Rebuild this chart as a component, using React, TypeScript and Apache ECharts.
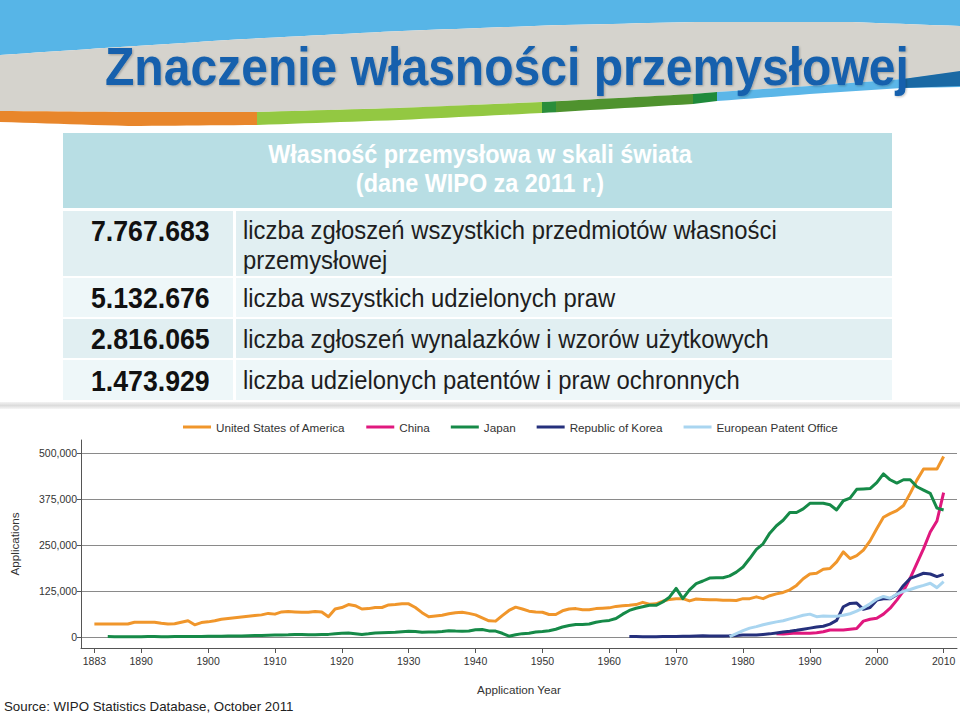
import React, { useEffect, useRef } from 'react';
import * as echarts from 'echarts';

// ---------- DATA ----------
const seriesNames = ['United States of America', 'China', 'Japan', 'Republic of Korea', 'European Patent Office'];
const seriesColors = ['#f0962b', '#e0187e', '#168a48', '#25307c', '#a9d5f0'];

const usaStart = 1883;
const usaValues = [
  35000, 35000, 35000, 35000, 35500, 35000, 40000,
  40000, 40000, 40000, 37000, 35000, 36000, 40000, 44000, 33000, 39000,
  41000, 44000, 48000, 50000, 52000, 54000, 56000, 58000, 60000, 64000,
  62000, 68000, 69000, 68000, 67000, 67000, 69000, 68000, 55000, 76000,
  80000, 88000, 85000, 76000, 77000, 80000, 80000, 87000, 88000, 90000,
  90000, 80000, 66000, 55000, 57000, 59000, 63000, 66000, 67000, 64000,
  60000, 52000, 44000, 43000, 58000, 72000, 81000, 76000, 70000, 68000,
  67000, 61000, 61000, 71000, 76000, 77000, 74000, 74000, 77000, 78000,
  79000, 83000, 85000, 86000, 88000, 94000, 89000, 90000, 97000, 102000,
  104000, 104000, 98000, 103000, 102000, 101000, 101000, 100000, 100000, 99000,
  104000, 104000, 109000, 104000, 112000, 117000, 121000, 128000, 140000, 158000,
  171000, 173000, 184000, 186000, 204000, 231000, 213000, 221000, 236000, 261000,
  294000, 325000, 335000, 343000, 357000, 390000, 426000, 456000, 456000, 456000, 490000,
];

const chinaStart = 1985;
const chinaValues = [
  8500, 8000, 9500, 11000, 10000,
  10000, 11500, 14000, 19000, 19000, 19000, 21000, 23000, 43000, 48000,
  51000, 62000, 78000, 100000, 125000, 160000, 200000, 240000, 285000, 315000, 392000,
];

const japanStart = 1885;
const japanValues = [
  1000, 500, 400, 400, 600,
  800, 900, 900, 800, 800, 900, 1000, 1200, 1100, 1500,
  1800, 2000, 2200, 2400, 2300, 2500, 3000, 3800, 4200, 4600,
  5000, 5500, 6000, 7000, 6500, 6000, 6200, 6500, 7000, 9000,
  10000, 11000, 9000, 6500, 8500, 11000, 11500, 12000, 12500, 14000,
  15500, 15000, 12500, 13500, 13500, 15000, 17000, 16000, 15500, 16000,
  19500, 20000, 16500, 16000, 10000, 2000, 6000, 9000, 10000, 13500,
  15000, 17000, 21000, 27000, 31000, 34000, 34000, 35000, 40000, 43000,
  45000, 50000, 62000, 72000, 78000, 82000, 86000, 86000, 95000, 108000,
  132000, 104000, 128000, 145000, 152000, 160000, 161000, 161000, 166000, 176000,
  190000, 213000, 238000, 253000, 282000, 302000, 317000, 338000, 338000, 348000,
  363000, 363000, 363000, 359000, 345000, 370000, 377000, 401000, 402000, 403000,
  419000, 443000, 427000, 418000, 427000, 427000, 408000, 399000, 390000, 350000, 345000,
];

const koreaStart = 1963;
const koreaValues = [
  1200, 1000, 800, 500, 800, 1000, 1200,
  1500, 1800, 1800, 2500, 3000, 2900, 2400, 2500, 3000, 4000,
  5000, 5300, 5300, 6700, 8400, 11000, 13600, 15500, 18000, 21000,
  24000, 27000, 29000, 35000, 45000, 82000, 91000, 92000, 75000, 80000,
  100000, 104000, 104000, 115000, 140000, 159000, 166000, 173000, 171000, 164000, 170000,
];

const epoStart = 1978;
const epoValues = [
  1000, 9000,
  17000, 24000, 28000, 33000, 37000, 41000, 44000, 49000, 54000, 59000,
  62000, 55000, 57000, 56500, 56500, 59000, 63000, 70000, 79000, 90000,
  103000, 110000, 105000, 116000, 124000, 129000, 135000, 140000, 146000, 134000, 150000,
];

const xTickYears = [1883, 1890, 1900, 1910, 1920, 1930, 1940, 1950, 1960, 1970, 1980, 1990, 2000, 2010];
const yTickValues = [0, 125000, 250000, 375000, 500000];

const slideTitle = 'Znaczenie własności przemysłowej';
const tableHeader = ['Własność przemysłowa w skali świata', '(dane WIPO za 2011 r.)'];
const tableNumbers = ['7.767.683', '5.132.676', '2.816.065', '1.473.929'];
const tableTexts = [
  ['liczba zgłoszeń wszystkich przedmiotów własności', 'przemysłowej'],
  ['liczba wszystkich udzielonych praw'],
  ['liczba zgłoszeń wynalazków i wzorów użytkowych'],
  ['liczba udzielonych patentów i praw ochronnych'],
];
const yAxisName = 'Applications';
const xAxisName = 'Application Year';
const sourceText = 'Source: WIPO Statistics Database, October 2011';

// ---------- helpers ----------
const FONT = '"Liberation Sans", Arial, "DejaVu Sans", sans-serif';

const toPairs = (start: number, vals: number[]) => vals.map((v, i) => [start + i, v]);

type Pt = [number, number];
const interp = (curve: Pt[], x: number) => {
  for (let i = 0; i < curve.length - 1; i++) {
    const [x0, y0] = curve[i];
    const [x1, y1] = curve[i + 1];
    if (x >= x0 && x <= x1) {
      const t = (x - x0) / (x1 - x0 || 1);
      return y0 + (y1 - y0) * t;
    }
  }
  return curve[curve.length - 1][1];
};
const sample = (curve: Pt[], xa: number, xb: number): Pt[] => {
  const pts: Pt[] = [];
  const n = Math.max(2, Math.ceil((xb - xa) / 12));
  for (let i = 0; i <= n; i++) {
    const x = xa + ((xb - xa) * i) / n;
    pts.push([x, interp(curve, x)]);
  }
  return pts;
};

const grayTop: Pt[] = [[0, 55], [120, 47], [245, 39], [400, 31], [560, 25], [700, 22], [850, 22], [960, 26]];
const stripeTop: Pt[] = [[0, 111], [130, 112], [257, 112], [400, 108], [542, 102], [693, 94], [717, 92], [810, 86], [903, 79], [960, 72]];
const stripeBot: Pt[] = [[0, 122], [130, 126], [257, 125], [400, 120], [542, 113], [693, 104], [717, 101], [810, 94], [903, 88], [960, 87]];

const band = (xa: number, xb: number, top: Pt[], bot: Pt[]) => [
  ...sample(top, xa, xb),
  ...sample(bot, xa, xb).reverse(),
];

const txt = (x: number, y: number, text: string, size: number, fill: string, opts: any = {}) => ({
  type: 'text', x, y, scaleX: opts.scaleX ?? 1, scaleY: 1, originX: 0, originY: 0,
  silent: true,
  style: {
    text, fill, fontSize: size, fontWeight: opts.bold ? 'bold' : 'normal', fontFamily: FONT,
    align: opts.align ?? 'left', verticalAlign: 'middle',
    textAlign: opts.align ?? 'left', textVerticalAlign: 'middle',
    ...(opts.extra || {}),
  },
});

function buildGraphics() {
  const g: any[] = [];
  // sky
  g.push({ type: 'polygon', shape: { points: [[0, 0], [960, 0], ...sample(grayTop, 0, 960).reverse()] }, style: { fill: '#57b5e7' }, silent: true });
  // gray wave
  g.push({ type: 'polygon', shape: { points: band(0, 960, grayTop, stripeTop) }, style: { fill: '#d5d3cd' }, silent: true });
  // stripes
  const stripes: [number, number, string][] = [
    [0, 257, '#e8862b'],
    [257, 542, '#93c842'],
    [542, 556, '#2a8d3a'],
    [556, 693, '#4f922e'],
    [693, 717, '#1f8a3b'],
    [717, 960, '#5bb6e8'],
  ];
  stripes.forEach(([a, b, c]) => {
    g.push({ type: 'polygon', shape: { points: band(a, b, stripeTop, stripeBot) }, style: { fill: c }, silent: true });
  });
  // dark blue band at right
  g.push({ type: 'polygon', shape: { points: [[903, 79], [960, 71], [960, 86], [903, 88]] }, style: { fill: '#1a69a4' }, silent: true });

  // title
  g.push(txt(105, 67, slideTitle, 54, '#1561ad', {
    bold: true, scaleX: 0.89,
    extra: { textShadowColor: 'rgba(0,0,0,0.25)', textShadowBlur: 2, textShadowOffsetX: 1, textShadowOffsetY: 1 },
  }));

  // table
  const tLeft = 63, tRight = 892, colDiv = 233;
  g.push({ type: 'rect', shape: { x: tLeft, y: 133, width: tRight - tLeft, height: 75 }, style: { fill: '#b8dee4' }, silent: true });
  g.push(txt(480, 154, tableHeader[0], 26, '#ffffff', { bold: true, align: 'center', scaleX: 0.9 }));
  g.push(txt(480, 183, tableHeader[1], 26, '#ffffff', { bold: true, align: 'center', scaleX: 0.9 }));

  const rows: [number, number][] = [[211, 276], [278, 317], [319, 358], [360, 400]];
  const rowFills = ['#e1eff2', '#eef7f9', '#e1eff2', '#eef7f9'];
  rows.forEach(([y0, y1], i) => {
    g.push({ type: 'rect', shape: { x: tLeft, y: y0, width: colDiv - tLeft, height: y1 - y0 }, style: { fill: rowFills[i] }, silent: true });
    g.push({ type: 'rect', shape: { x: colDiv + 3, y: y0, width: tRight - colDiv - 3, height: y1 - y0 }, style: { fill: rowFills[i] }, silent: true });
    const lines = tableTexts[i];
    const firstY = lines.length > 1 ? y0 + 19 : (y0 + y1) / 2;
    g.push(txt(91, firstY, tableNumbers[i], 30, '#111111', { bold: true, scaleX: 0.89 }));
    lines.forEach((ln, j) => {
      g.push(txt(243, firstY + j * 30, ln, 26.5, '#1e1e1e', { scaleX: 0.9 }));
    });
  });

  // shadow under table
  g.push({
    type: 'rect', shape: { x: 0, y: 402, width: 960, height: 7 },
    style: { fill: new echarts.graphic.LinearGradient(0, 0, 0, 1, [{ offset: 0, color: '#f3f3f3' }, { offset: 0.5, color: '#dcdcdc' }, { offset: 1, color: '#f6f6f6' }]) },
    silent: true,
  });

  // source
  g.push(txt(4, 706, sourceText, 13.3, '#222222'));
  return g;
}

export default function App() {
  const ref = useRef<HTMLDivElement>(null);
  useEffect(() => {
    if (!ref.current) return;
    const chart = echarts.init(ref.current, undefined, { renderer: 'svg', width: 960, height: 720 });
    const allData = [
      toPairs(usaStart, usaValues),
      toPairs(chinaStart, chinaValues),
      toPairs(japanStart, japanValues),
      toPairs(koreaStart, koreaValues),
      toPairs(epoStart, epoValues),
    ];
    const option: any = {
      animation: false,
      backgroundColor: '#ffffff',
      textStyle: { fontFamily: FONT },
      graphic: { elements: buildGraphics() },
      legend: {
        left: 178, top: 416,
        icon: 'rect', itemWidth: 28, itemHeight: 3, itemGap: 21,
        textStyle: { fontSize: 11.7, color: '#333333', fontFamily: FONT },
        data: seriesNames,
        selectedMode: false,
      },
      grid: { left: 79, right: 3, top: 440, bottom: 72, containLabel: false },
      xAxis: {
        type: 'value', min: 1881, max: 2012,
        name: xAxisName, nameLocation: 'middle', nameGap: 35,
        nameTextStyle: { fontSize: 11.7, color: '#333333', fontFamily: FONT },
        axisLine: { show: true, onZero: false, lineStyle: { color: '#555555', width: 1 } },
        axisTick: { show: true, length: 5, customValues: xTickYears, lineStyle: { color: '#555555' } },
        axisLabel: { customValues: xTickYears, formatter: (v: number) => String(v), fontSize: 10.5, color: '#333333', margin: 7, fontFamily: FONT },
        splitLine: { show: false },
      },
      yAxis: {
        type: 'value', min: -30000, max: 535000,
        name: yAxisName, nameLocation: 'middle', nameGap: 61,
        nameTextStyle: { fontSize: 11.7, color: '#333333', fontFamily: FONT },
        axisLine: { show: true, onZero: false, lineStyle: { color: '#555555', width: 1 } },
        axisTick: { show: true, length: 4, customValues: yTickValues, lineStyle: { color: '#555555' } },
        axisLabel: {
          customValues: yTickValues,
          formatter: (v: number) => v.toLocaleString('en-US'),
          fontSize: 10.5, color: '#333333', margin: 4, fontFamily: FONT,
        },
        splitLine: { show: true, lineStyle: { color: '#8a8a8a', width: 1 } },
      },
      series: seriesNames.map((name, i) => ({
        name, type: 'line', data: allData[i], showSymbol: false, symbol: 'none',
        lineStyle: { width: 3, color: seriesColors[i], join: 'round' },
        itemStyle: { color: seriesColors[i] },
        z: 3 + i,
      })),
    };
    chart.setOption(option);
    return () => chart.dispose();
  }, []);
  return (
    <div
      ref={ref}
      style={{ position: 'absolute', left: 0, top: 0, width: 960, height: 720, background: '#ffffff' }}
    />
  );
}
